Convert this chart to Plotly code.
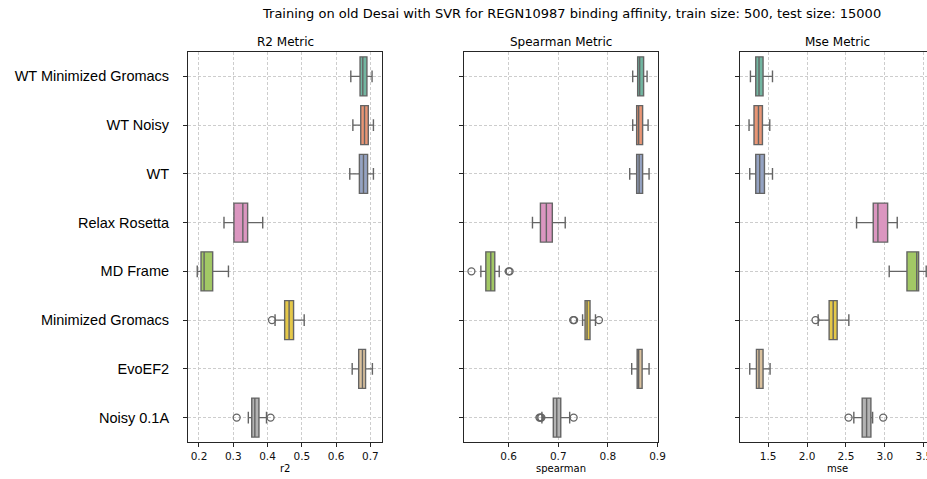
import colorsys
import plotly.graph_objects as go

# ---------------- data ----------------
categories = ["WT Minimized Gromacs", "WT Noisy", "WT", "Relax Rosetta",
              "MD Frame", "Minimized Gromacs", "EvoEF2", "Noisy 0.1A"]

r2_low = [0.643, 0.649, 0.640, 0.273, 0.195, 0.422, 0.647, 0.344]
r2_q1 = [0.670, 0.672, 0.668, 0.302, 0.206, 0.450, 0.666, 0.354]
r2_med = [0.678, 0.683, 0.680, 0.328, 0.215, 0.463, 0.677, 0.363]
r2_q3 = [0.690, 0.694, 0.692, 0.342, 0.240, 0.476, 0.686, 0.375]
r2_high = [0.705, 0.709, 0.709, 0.386, 0.286, 0.507, 0.706, 0.397]
r2_outliers = {"Minimized Gromacs": [0.413], "Noisy 0.1A": [0.310, 0.409]}

sp_low = [0.850, 0.850, 0.844, 0.648, 0.544, 0.749, 0.848, 0.667]
sp_q1 = [0.860, 0.858, 0.858, 0.664, 0.554, 0.754, 0.859, 0.690]
sp_med = [0.864, 0.862, 0.863, 0.676, 0.564, 0.758, 0.862, 0.697]
sp_q3 = [0.872, 0.870, 0.870, 0.688, 0.572, 0.764, 0.869, 0.705]
sp_high = [0.879, 0.881, 0.883, 0.714, 0.581, 0.775, 0.883, 0.723]
sp_outliers = {"MD Frame": [0.525, 0.600, 0.602],
               "Minimized Gromacs": [0.730, 0.732, 0.782],
               "Noisy 0.1A": [0.662, 0.664, 0.666, 0.731]}

mse_low = [1.274, 1.256, 1.265, 2.636, 3.055, 2.143, 1.265, 2.601]
mse_q1 = [1.342, 1.320, 1.342, 2.850, 3.283, 2.284, 1.351, 2.708]
mse_med = [1.384, 1.377, 1.393, 2.910, 3.408, 2.336, 1.384, 2.765]
mse_q3 = [1.436, 1.428, 1.454, 3.035, 3.433, 2.387, 1.436, 2.820]
mse_high = [1.557, 1.522, 1.557, 3.158, 3.530, 2.537, 1.526, 2.842]
mse_outliers = {"Minimized Gromacs": [2.109], "Noisy 0.1A": [2.533, 2.978]}

r2_ticks = [0.2, 0.3, 0.4, 0.5, 0.6, 0.7]
sp_ticks = [0.6, 0.7, 0.8, 0.9]
mse_ticks = [1.5, 2.0, 2.5, 3.0, 3.5]

title_text = "Training on old Desai with SVR for REGN10987 binding affinity, train size: 500, test size: 15000"
panel_titles = ["R2 Metric", "Spearman Metric", "Mse Metric"]
axis_titles = ["r2", "spearman", "mse"]

# ---------------- style ----------------
set2 = ["#66c2a5", "#fc8d62", "#8da0cb", "#e78ac3", "#a6d854", "#ffd92f", "#e5c494", "#b3b3b3"]


def desat(hx, p=0.75):
    r, g, b = (int(hx[i:i + 2], 16) / 255 for i in (1, 3, 5))
    h, l, s = colorsys.rgb_to_hls(r, g, b)
    r, g, b = colorsys.hls_to_rgb(h, l, s * p)
    return "#%02x%02x%02x" % (round(r * 255), round(g * 255), round(b * 255))


colors = [desat(c) for c in set2]
edge = "#646464"
W, H = 927, 479
FONT = "DejaVu Sans"

fig = go.Figure()

panels = [
    ("x", "y", r2_low, r2_q1, r2_med, r2_q3, r2_high, r2_outliers),
    ("x2", "y2", sp_low, sp_q1, sp_med, sp_q3, sp_high, sp_outliers),
    ("x3", "y3", mse_low, mse_q1, mse_med, mse_q3, mse_high, mse_outliers),
]

for xa, ya, lo, q1, md, q3, hi, outl in panels:
    for i, cat in enumerate(categories):
        fig.add_trace(go.Box(
            orientation="h", y=[cat], q1=[q1[i]], median=[md[i]], q3=[q3[i]],
            lowerfence=[lo[i]], upperfence=[hi[i]],
            fillcolor=colors[i], line=dict(color=edge, width=1.4),
            width=0.8, whiskerwidth=0.3, boxpoints=False,
            xaxis=xa, yaxis=ya, showlegend=False, hoverinfo="skip"))
    for cat, vals in outl.items():
        fig.add_trace(go.Scatter(
            x=vals, y=[cat] * len(vals), mode="markers",
            marker=dict(symbol="circle-open", size=7, color=edge, line=dict(width=1.3)),
            xaxis=xa, yaxis=ya, showlegend=False, hoverinfo="skip"))

# full (uncropped) figure is ~1143 px wide; only the left 927 px are shown
ydom = [1 - 442 / H, 1 - 52 / H]
xdoms = [[188 / W, 382 / W], [464 / W, 658 / W], [740 / W, 1.0]]
mse_px_per_unit = 194 / (3.63 - 1.14)
xranges = [[0.168, 0.734], [0.51, 0.901], [1.14, 1.14 + (W - 740) / mse_px_per_unit]]
xticks = [r2_ticks, sp_ticks, mse_ticks]

grid = dict(showgrid=True, gridcolor="#cdcdcd", griddash="3px,2px", gridwidth=0.8)
common_x = dict(showline=True, mirror=True, linecolor="#262626", linewidth=1,
                ticks="outside", ticklen=4, tickcolor="#262626", tickwidth=1,
                zeroline=False, tickfont=dict(family=FONT, size=10.5, color="#111"),
                tickformat=".1f", automargin=False, ticklabeloverflow="allow", **grid)
common_y = dict(showline=True, mirror=True, linecolor="#262626", linewidth=1,
                ticks="outside", ticklen=4, tickcolor="#262626", tickwidth=1,
                zeroline=False, type="category", categoryorder="array",
                categoryarray=categories, range=[7.5, -0.5], domain=ydom,
                automargin=False, **grid)

layout = dict(width=W, height=H, margin=dict(l=0, r=0, t=0, b=0, autoexpand=False),
              paper_bgcolor="white", plot_bgcolor="white", showlegend=False)
for k in range(3):
    sfx = "" if k == 0 else str(k + 1)
    layout["xaxis" + sfx] = dict(common_x, domain=xdoms[k], range=xranges[k],
                                 tickvals=xticks[k], anchor="y" + sfx)
    ydict = dict(common_y, anchor="x" + sfx)
    if k == 0:
        ydict.update(tickfont=dict(family="Liberation Sans", size=14.5, color="#000"),
                     ticklabelstandoff=11)
    else:
        ydict.update(showticklabels=False)
    if k == 2:
        ydict.update(mirror=False)
    layout["yaxis" + sfx] = ydict

title_cx = 571.5 / W
annotations = [dict(text=title_text, x=title_cx, y=1 - 14 / H, xref="paper", yref="paper",
                    xanchor="center", yanchor="middle", showarrow=False,
                    font=dict(family=FONT, size=13, color="#000"))]
px_centers = [285, 561, 837]
for k in range(3):
    cx = px_centers[k] / W
    annotations.append(dict(text=panel_titles[k], x=cx, y=1 - 42 / H, xref="paper",
                            yref="paper", xanchor="center", yanchor="middle",
                            showarrow=False, font=dict(family=FONT, size=12, color="#000")))
    annotations.append(dict(text=axis_titles[k], x=cx, y=1 - 468 / H, xref="paper",
                            yref="paper", xanchor="center", yanchor="middle",
                            showarrow=False, font=dict(family=FONT, size=10, color="#000")))
layout["annotations"] = annotations

fig.update_layout(**layout)
fig.write_html("out.html")
